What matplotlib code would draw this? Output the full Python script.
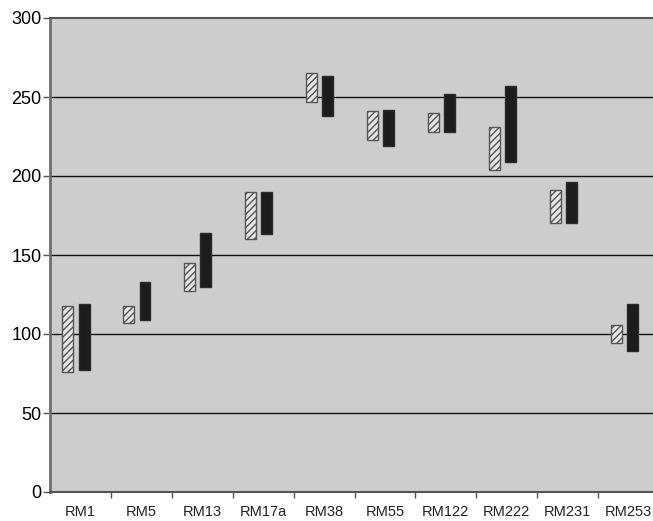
import numpy as np
import matplotlib.pyplot as plt

plt.rcParams['font.family'] = ['Liberation Sans', 'DejaVu Sans']
plt.rcParams['hatch.linewidth'] = 1.0

categories = ['RM1', 'RM5', 'RM13', 'RM17a', 'RM38', 'RM55', 'RM122', 'RM222', 'RM231', 'RM253']
# floating bars: (low, high)
hatched_low = [76, 107, 127, 160, 247, 223, 228, 204, 170, 94]
hatched_high = [118, 118, 145, 190, 265, 241, 240, 231, 191, 106]
solid_low = [77, 109, 130, 163, 238, 219, 228, 209, 170, 89]
solid_high = [119, 133, 164, 190, 263, 242, 252, 257, 196, 119]

fig = plt.figure(figsize=(6.53, 5.21), dpi=100)
ax = fig.add_axes([50/653, 29/521, 603/653, 474/521])
ax.set_facecolor('#cdcdcd')

x = np.arange(len(categories))
w = 0.18
hl = np.array(hatched_low); hh = np.array(hatched_high)
sl = np.array(solid_low); sh = np.array(solid_high)

ax.bar(x - 0.205, hh - hl, bottom=hl, width=w, color='#e6e6e6',
       edgecolor='#555555', hatch='/////', linewidth=1.0, zorder=3)
ax.bar(x + 0.06, sh - sl, bottom=sl, width=w, color='#1c1c1c',
       edgecolor='#2a2a2a', linewidth=1.0, zorder=3)

ax.set_ylim(0, 300)
ax.set_xlim(-0.5, 9.5 - 6/60.9)
ax.set_yticks(range(0, 301, 50))
for v in range(50, 300, 50):
    ax.axhline(v, color='#111111', linewidth=1.0, zorder=1)

ax.set_xticks(x)
ax.set_xticklabels(categories, fontsize=10.5, color='#222222')
ax.set_xticks(np.arange(0.5, 9.5, 1), minor=True)
ax.tick_params(axis='x', which='major', length=0, pad=9)
ax.tick_params(axis='x', which='minor', length=4, width=1, color='#555555', direction='out')
ax.tick_params(axis='y', labelsize=13, length=5, width=1, color='#555555', pad=1)

ax.spines['left'].set_color('#6e6e6e')
ax.spines['left'].set_linewidth(2.0)
ax.spines['bottom'].set_color('#555555')
ax.spines['bottom'].set_linewidth(1.5)
ax.spines['top'].set_color('#555555')
ax.spines['top'].set_linewidth(1.5)
ax.spines['right'].set_visible(False)

fig.savefig('out.png', dpi=100, facecolor='white')
